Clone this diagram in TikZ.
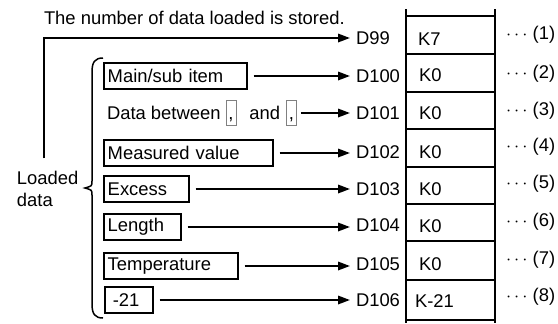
\documentclass[tikz,border=0pt]{standalone}
\usepackage{fontspec}
\setmainfont{Liberation Sans}
\usetikzlibrary{arrows.meta,positioning}

\begin{document}
\begin{tikzpicture}[x=0.5pt,y=-0.5pt,line width=1pt,
  every node/.style={font=\fontsize{9.2}{11}\selectfont},
  reglabel/.style={anchor=west,inner sep=1pt},
  devlabel/.style={anchor=west,inner xsep=2.5pt,inner ysep=1pt},
  itembox/.style={draw,line width=.75pt,anchor=west,inner sep=2pt,minimum height=13pt,text width=#1,align=left},
  commabox/.style={draw=gray,line width=.4pt,inner sep=0pt,minimum width=5pt,minimum height=12.5pt,text height=6.6pt,text depth=0pt},
  feed/.style={-{Triangle[length=6pt,width=4.2pt]},line width=1pt,shorten <=3pt}]
\path[use as bounding box] (0,0) rectangle (558,323);
% memory table
\draw (406,9) -- (406,323);
\draw (495,9) -- (495,323);
\draw (406,16) -- (495,16);
\draw (406,54) -- (495,54);
\draw (406,92) -- (495,92);
\draw (406,129) -- (495,129);
\draw (406,167) -- (495,167);
\draw (406,204) -- (495,204);
\draw (406,241) -- (495,241);
\draw (406,280) -- (495,280);
\draw (406,320) -- (495,320);
% device names
\node[devlabel] (d99) at (350,38) {D99};
\node[devlabel] (d100) at (350,76) {D100};
\node[devlabel] (d101) at (350,113) {D101};
\node[devlabel] (d102) at (350,152) {D102};
\node[devlabel] (d103) at (350,189) {D103};
\node[devlabel] (d104) at (350,225) {D104};
\node[devlabel] (d105) at (350,264) {D105};
\node[devlabel] (d106) at (350,300) {D106};
% stored values
\node[reglabel] (k99) at (415,39) {K7};
\node[reglabel] (k100) at (416,75) {K0};
\node[reglabel] (k101) at (416,113) {K0};
\node[reglabel] (k102) at (416,152) {K0};
\node[reglabel] (k103) at (416,189) {K0};
\node[reglabel] (k104) at (416,226) {K0};
\node[reglabel] (k105) at (416,264) {K0};
\node[reglabel] (k106) at (412,301) {K-21};
% item numbers
\node[reglabel] (n1) at (503,35) {$\cdots$\ (1)};
\node[reglabel] (n2) at (503,74) {$\cdots$\ (2)};
\node[reglabel] (n3) at (503,111) {$\cdots$\ (3)};
\node[reglabel] (n4) at (503,147) {$\cdots$\ (4)};
\node[reglabel] (n5) at (503,184) {$\cdots$\ (5)};
\node[reglabel] (n6) at (503,222) {$\cdots$\ (6)};
\node[reglabel] (n7) at (503,260) {$\cdots$\ (7)};
\node[reglabel] (n8) at (503,297) {$\cdots$\ (8)};
% count of loaded data
\node[reglabel] (note) at (41,18) {The number of data loaded is stored.};
\node[reglabel,align=left] (loaded) at (14,189) {Loaded\\data};
\draw[feed,shorten <=5pt] ([xshift=-2pt]loaded.north) |- (d99.west);
% brace round the loaded items
\draw[line width=.75pt] (103,58) .. controls (95,58) and (92,62) .. (92,72) -- (92,181) .. controls (92,186) .. (85,188) .. controls (92,190) .. (92,195) -- (92,304) .. controls (92,314) and (95,318) .. (103,318);
% loaded items
\node[itembox=67.5pt] (mainsub) at (103,76) {Main/sub item};
\draw[feed] (mainsub.east) -- (mainsub.east -| d100.west);
\node[reglabel] (between) at (104,113) {Data between};
\node[commabox,right=1pt of between] (comma1) {,};
\node[reglabel,right=5pt of comma1] (and) {and};
\node[commabox,right=1.5pt of and] (comma2) {,};
\draw[feed,shorten <=2pt] (comma2.east) -- (comma2.east -| d101.west);
\node[itembox=80.5pt] (measured) at (103,153) {Measured value};
\draw[feed] (measured.east) -- (measured.east -| d102.west);
\node[itembox=38.5pt] (excess) at (103,189) {Excess};
\draw[feed] (excess.east) -- (excess.east -| d103.west);
\node[itembox=34.5pt] (length) at (103,227) {Length};
\draw[feed] (length.east) -- (length.east -| d104.west);
\node[itembox=63pt] (temperature) at (103,266) {Temperature};
\draw[feed] (temperature.east) -- (temperature.east -| d105.west);
\node[itembox=20pt,inner xsep=4pt,text width=16pt] (minus21) at (104,300) {-21};
\draw[feed] (minus21.east) -- (minus21.east -| d106.west);
\end{tikzpicture}
\end{document}
